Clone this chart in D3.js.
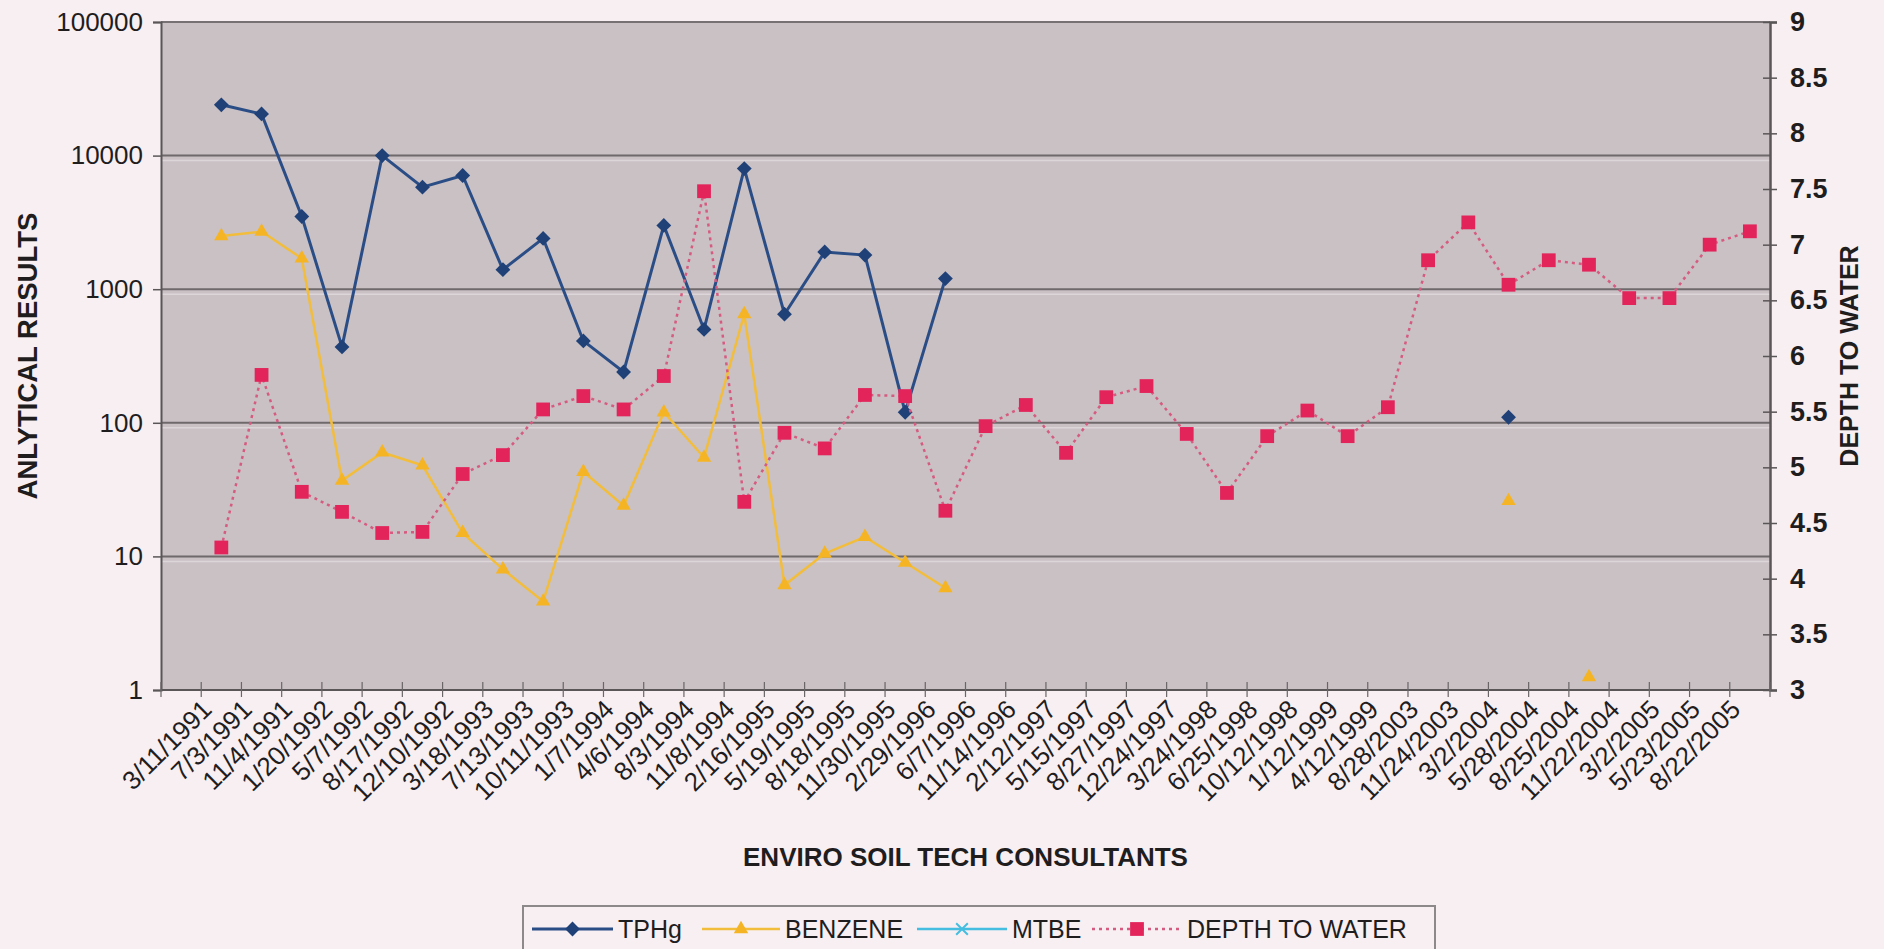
<!DOCTYPE html>
<html>
<head>
<meta charset="utf-8">
<script src="https://cdn.jsdelivr.net/npm/d3@7/dist/d3.min.js"></script>
<style>
  html, body { margin: 0; padding: 0; background: #f7eff2; }
  svg { display: block; }
  text { font-family: "Liberation Sans", Arial, sans-serif; fill: #1f1d1e; }
</style>
</head>
<body>
<svg id="chart" width="1884" height="949"></svg>
<script>
// sampling dates (first category is an empty slot, as in the original sheet)
const dates = ["", "3/11/1991", "7/3/1991", "11/4/1991", "1/20/1992", "5/7/1992", "8/17/1992",
  "12/10/1992", "3/18/1993", "7/13/1993", "10/11/1993", "1/7/1994", "4/6/1994", "8/3/1994",
  "11/8/1994", "2/16/1995", "5/19/1995", "8/18/1995", "11/30/1995", "2/29/1996", "6/7/1996",
  "11/14/1996", "2/12/1997", "5/15/1997", "8/27/1997", "12/24/1997", "3/24/1998", "6/25/1998",
  "10/12/1998", "1/12/1999", "4/12/1999", "8/28/2003", "11/24/2003", "3/2/2004", "5/28/2004",
  "8/25/2004", "11/22/2004", "3/2/2005", "5/23/2005", "8/22/2005"];

const tphg = [null, 24000, 20500, 3500, 370, 10000, 5800, 7100, 1400, 2400, 410, 240, 3000, 500,
  8000, 650, 1900, 1800, 120, 1200, null, null, null, null, null, null, null, null, null, null,
  null, null, null, 110, null, null, null, null, null, null];

const benzene = [null, 2500, 2700, 1700, 37, 60, 48, 15, 8, 4.6, 43, 24, 120, 55,
  650, 6.1, 10.5, 14, 9, 5.8, null, null, null, null, null, null, null, null, null, null,
  null, null, null, 26, null, 1.25, null, null, null, null];

const mtbe = [];  // no detections plotted

const depthToWater = [null, 4.28, 5.83, 4.78, 4.60, 4.41, 4.42, 4.94, 5.11, 5.52, 5.64, 5.52, 5.82, 7.48,
  4.69, 5.31, 5.17, 5.65, 5.64, 4.61, 5.37, 5.56, 5.13, 5.63, 5.73, 5.30, 4.77, 5.28, 5.51, 5.28,
  5.54, 6.86, 7.20, 6.64, 6.86, 6.82, 6.52, 6.52, 7.00, 7.12];

const leftTicks = [1, 10, 100, 1000, 10000, 100000];
const rightTicks = [3, 3.5, 4, 4.5, 5, 5.5, 6, 6.5, 7, 7.5, 8, 8.5, 9];

const svg = d3.select('#chart');
const plot = { left: 161, right: 1770, top: 22, bottom: 690 };

const x = d3.scaleBand().domain(dates).range([plot.left, plot.right]);
const cx = d => x(d) + x.bandwidth() / 2;
const yLeft = d3.scaleLog().domain([1, 100000]).range([plot.bottom, plot.top]);
const yRight = d3.scaleLinear().domain([3, 9]).range([plot.bottom, plot.top]);

// plot area
svg.append('rect')
    .attr('x', plot.left).attr('y', plot.top)
    .attr('width', plot.right - plot.left).attr('height', plot.bottom - plot.top)
    .attr('fill', '#c9c1c4');

// gridlines (dark line with a faint light shadow under it, like the scan)
const grid = svg.append('g');
leftTicks.slice(1, -1).forEach(t => {
    grid.append('line')
        .attr('x1', plot.left).attr('x2', plot.right)
        .attr('y1', yLeft(t) + 5).attr('y2', yLeft(t) + 5)
        .attr('stroke', '#ddd6d9').attr('stroke-width', 1.5);
    grid.append('line')
        .attr('x1', plot.left).attr('x2', plot.right)
        .attr('y1', yLeft(t)).attr('y2', yLeft(t))
        .attr('stroke', '#6f696b').attr('stroke-width', 2);
});
svg.append('line')
    .attr('x1', plot.left).attr('x2', plot.right)
    .attr('y1', plot.top).attr('y2', plot.top)
    .attr('stroke', '#777173').attr('stroke-width', 2);

// left axis
const axL = svg.append('g')
    .attr('transform', `translate(${plot.left},0)`)
    .call(d3.axisLeft(yLeft).tickValues(leftTicks).tickFormat(d3.format('d')).tickSize(8).tickPadding(10));
axL.select('.domain').attr('stroke', '#5a5557').attr('stroke-width', 2);
axL.selectAll('.tick line').attr('stroke', '#5a5557').attr('stroke-width', 1.5);
axL.selectAll('.tick text').attr('font-size', 26).attr('fill', '#1f1d1e')
    .style('font-family', '"Liberation Sans", Arial, sans-serif');

// right axis
const axR = svg.append('g')
    .attr('transform', `translate(${plot.right},0)`)
    .call(d3.axisRight(yRight).tickValues(rightTicks).tickFormat(d3.format('')).tickSize(7).tickPadding(13));
axR.select('.domain').attr('stroke', '#5a5557').attr('stroke-width', 2.5);
axR.selectAll('.tick line').attr('x1', -7).attr('stroke', '#5a5557').attr('stroke-width', 1.5);
axR.selectAll('.tick text').attr('font-size', 27).attr('font-weight', 'bold').attr('fill', '#1f1d1e')
    .style('font-family', '"Liberation Sans", Arial, sans-serif');

// bottom axis: line, ticks at category boundaries, rotated date labels
const axB = svg.append('g');
axB.append('line')
    .attr('x1', plot.left).attr('x2', plot.right)
    .attr('y1', plot.bottom).attr('y2', plot.bottom)
    .attr('stroke', '#5a5557').attr('stroke-width', 2);
const bounds = dates.map(d => x(d)).concat([plot.right]);
axB.selectAll('line.tk').data(bounds).enter().append('line')
    .attr('class', 'tk')
    .attr('x1', d => d).attr('x2', d => d)
    .attr('y1', plot.bottom - 8).attr('y2', plot.bottom + 7)
    .attr('stroke', '#6a6567').attr('stroke-width', 1.2);
axB.selectAll('text').data(dates.filter(d => d !== '')).enter().append('text')
    .attr('transform', d => `translate(${cx(d) - 8},${plot.bottom + 21}) rotate(-45)`)
    .attr('text-anchor', 'end')
    .attr('font-size', 26)
    .text(d => d);

// axis titles
svg.append('text')
    .attr('transform', `translate(37,${(plot.top + plot.bottom) / 2}) rotate(-90)`)
    .attr('text-anchor', 'middle').attr('font-size', 27.5).attr('font-weight', 'bold')
    .text('ANLYTICAL RESULTS');
svg.append('text')
    .attr('transform', `translate(1858,${(plot.top + plot.bottom) / 2}) rotate(-90)`)
    .attr('text-anchor', 'middle').attr('font-size', 25).attr('font-weight', 'bold')
    .text('DEPTH TO WATER');
svg.append('text')
    .attr('x', (plot.left + plot.right) / 2).attr('y', 866)
    .attr('text-anchor', 'middle').attr('font-size', 26).attr('font-weight', 'bold')
    .text('ENVIRO SOIL TECH CONSULTANTS');

// series
const diamond = d3.symbol(d3.symbolSquare, 110)();
const triangle = d3.symbol(d3.symbolTriangle, 90)();
const square = d3.symbol(d3.symbolSquare, 190)();
const cross = d3.symbol(d3.symbolX, 90)();

const series = [
    { name: 'TPHg', values: tphg, y: yLeft, line: '#2b4d86', width: 3, dash: null, marker: diamond, rot: 45, fill: '#1f4178' },
    { name: 'BENZENE', values: benzene, y: yLeft, line: '#f3bd3c', width: 2.5, dash: null, marker: triangle, rot: 0, fill: '#f5b424' },
    { name: 'MTBE', values: mtbe, y: yLeft, line: '#45bde0', width: 2.5, dash: null, marker: cross, rot: 0, fill: '#45bde0' },
    { name: 'DEPTH TO WATER', values: depthToWater, y: yRight, line: '#d65b80', width: 2.5, dash: '3,4', marker: square, rot: 0, fill: '#e2245b' }
];

series.forEach(s => {
    const pts = s.values.map((v, i) => ({ d: dates[i], v: v }));
    const line = d3.line()
        .defined(p => p.v != null)
        .x(p => cx(p.d))
        .y(p => s.y(p.v));
    const g = svg.append('g');
    g.append('path')
        .datum(pts)
        .attr('fill', 'none')
        .attr('stroke', s.line)
        .attr('stroke-width', s.width)
        .attr('stroke-dasharray', s.dash)
        .attr('d', line);
    g.selectAll('path.mk').data(pts.filter(p => p.v != null)).enter().append('path')
        .attr('class', 'mk')
        .attr('d', s.marker)
        .attr('transform', p => `translate(${cx(p.d)},${s.y(p.v)}) rotate(${s.rot})`)
        .attr('fill', s.fill)
        .attr('stroke', s.name === 'MTBE' ? s.fill : 'none')
        .attr('stroke-width', 2);
});

// legend
const legend = svg.append('g');
legend.append('rect')
    .attr('x', 523).attr('y', 906).attr('width', 912).attr('height', 60)
    .attr('fill', '#f7eff2').attr('stroke', '#8d898b').attr('stroke-width', 2);
const legendX = [532, 702, 917, 1092];
const legendLen = [81, 78, 90, 90];
series.forEach((s, i) => {
    const lx = legendX[i], ly = 929, len = legendLen[i];
    legend.append('line')
        .attr('x1', lx).attr('x2', lx + len).attr('y1', ly).attr('y2', ly)
        .attr('stroke', s.line).attr('stroke-width', s.width)
        .attr('stroke-dasharray', s.dash);
    legend.append('path')
        .attr('d', s.marker)
        .attr('transform', `translate(${lx + len / 2},${ly}) rotate(${s.rot})`)
        .attr('fill', s.fill)
        .attr('stroke', s.name === 'MTBE' ? s.fill : 'none')
        .attr('stroke-width', 2);
    legend.append('text')
        .attr('x', lx + len + 5).attr('y', ly + 9)
        .attr('font-size', 25)
        .text(s.name);
});
</script>
</body>
</html>
